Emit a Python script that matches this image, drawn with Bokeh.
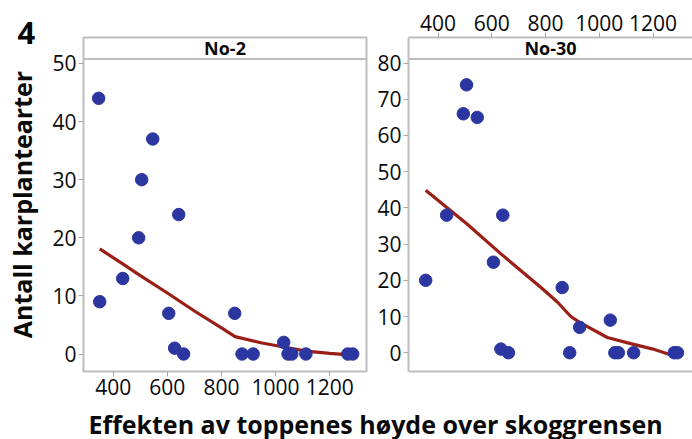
from bokeh.plotting import figure
from bokeh.layouts import column, row
from bokeh.models import Label, Span, LinearAxis, FixedTicker, Range1d, Title
from bokeh.embed import file_html
from bokeh.resources import INLINE

# ---- data ----
panel_titles = ["No-2", "No-30"]
x_ticks = [400, 600, 800, 1000, 1200]
y_ticks_no2 = [0, 10, 20, 30, 40, 50]
y_ticks_no30 = [0, 10, 20, 30, 40, 50, 60, 70, 80]

x_no2 = [346, 350, 435, 494, 505, 546, 605, 627, 642, 660, 849, 876, 917, 1030, 1046, 1060, 1112, 1267, 1285]
y_no2 = [44, 9, 13, 20, 30, 37, 7, 1, 24, 0, 7, 0, 0, 2, 0, 0, 0, 0, 0]
fit_x_no2 = [350, 435, 500, 600, 700, 800, 850, 950, 1030, 1112, 1200, 1285]
fit_y_no2 = [18.1, 15.5, 13.5, 10.5, 7.4, 4.5, 3.0, 1.9, 1.2, 0.5, 0.1, -0.2]

x_no30 = [354, 432, 494, 506, 546, 606, 634, 641, 662, 862, 890, 927, 1041, 1058, 1071, 1128, 1279, 1291]
y_no30 = [20, 38, 66, 74, 65, 25, 1, 38, 0, 18, 0, 7, 9, 0, 0, 0, 0, 0]
fit_x_no30 = [354, 509, 634, 783, 844, 894, 927, 1030, 1117, 1200, 1262]
fit_y_no30 = [44.9, 35.5, 27.3, 18.0, 14.0, 10.0, 8.4, 4.2, 2.5, 1.0, -0.5]

FRAME = "#bdbdbd"
TICK = "#a8a8a8"
DOT = "#2c36a0"
FIT = "#9a1f17"
FONT = "Open Sans"
TXT = "#0a0a0a"


def style_axis(ax, ticks):
    ax.ticker = FixedTicker(ticks=ticks)
    ax.minor_tick_line_color = None
    ax.major_tick_out = 5
    ax.major_tick_in = 0
    ax.major_tick_line_color = TICK
    ax.major_tick_line_width = 1
    ax.major_label_text_font = FONT
    ax.major_label_text_font_size = "21px"
    ax.major_label_text_color = TXT
    ax.major_label_standoff = 2


def bare(fig):
    fig.axis.visible = False
    fig.grid.visible = False
    fig.outline_line_color = None
    fig.background_fill_color = "white"
    fig.border_fill_color = "white"


# ---- left panel ----
tag = Title(text="4", align="left", offset=-66, standoff=-13, text_font=FONT,
            text_font_size="31px", text_font_style="bold", text_color="#000000")
f1 = figure(width=373, height=405, x_range=Range1d(290, 1336), y_range=Range1d(-3.01, 54.47),
            toolbar_location=None, output_backend="svg", title=tag,
            min_border_left=83, min_border_right=7, min_border_top=37, min_border_bottom=34)
f1.grid.visible = False
f1.outline_line_color = FRAME
f1.outline_line_width = 2
f1.background_fill_color = "white"
f1.border_fill_color = "white"
for ax in f1.xaxis:
    style_axis(ax, x_ticks)
    ax.axis_line_color = None
for ax in f1.yaxis:
    style_axis(ax, y_ticks_no2)
    ax.axis_line_color = None
    ax.axis_label = "Antall karplantearter"
    ax.axis_label_text_font = FONT
    ax.axis_label_text_font_size = "25px"
    ax.axis_label_text_font_style = "bold"
    ax.axis_label_text_color = TXT
    ax.axis_label_standoff = 10

f1.add_layout(Span(location=50.77, dimension="width", line_color=FRAME, line_width=2))
f1.add_layout(Label(x=(290 + 1336) / 2, y=52.6, text=panel_titles[0], text_align="center",
                    text_baseline="middle", text_font=FONT, text_font_size="18px",
                    text_font_style="bold", text_color=TXT))
f1.line(fit_x_no2, fit_y_no2, line_color=FIT, line_width=3.2)
f1.scatter(x_no2, y_no2, size=12.5, fill_color=DOT, line_color=DOT)

# ---- right panel ----
f2 = figure(width=319, height=405, x_range=Range1d(290, 1347), y_range=Range1d(-5.19, 87.07),
            toolbar_location=None, output_backend="svg", x_axis_location="above",
            min_border_left=35, min_border_right=0, min_border_top=37, min_border_bottom=34)
f2.grid.visible = False
f2.outline_line_color = None
f2.background_fill_color = "white"
f2.border_fill_color = "white"
for ax in f2.xaxis:
    style_axis(ax, x_ticks)
    ax.axis_line_color = FRAME
    ax.axis_line_width = 2
for ax in f2.yaxis:
    style_axis(ax, y_ticks_no30)
    ax.axis_line_color = FRAME
    ax.axis_line_width = 2
bottom = LinearAxis(ticker=FixedTicker(ticks=[]), major_label_text_font_size="0px",
                    axis_line_color=FRAME, axis_line_width=2, major_tick_line_color=None,
                    minor_tick_line_color=None)
f2.add_layout(bottom, "below")
f2.add_layout(Span(location=81.13, dimension="width", line_color=FRAME, line_width=2))
f2.add_layout(Label(x=(290 + 1347) / 2, y=84.1, text=panel_titles[1], text_align="center",
                    text_baseline="middle", text_font=FONT, text_font_size="18px",
                    text_font_style="bold", text_color=TXT))
f2.line(fit_x_no30, fit_y_no30, line_color=FIT, line_width=3.2)
f2.scatter(x_no30, y_no30, size=12.5, fill_color=DOT, line_color=DOT)

# ---- shared x label ----
f3 = figure(width=692, height=34, x_range=Range1d(0, 692), y_range=Range1d(0, 34),
            toolbar_location=None, output_backend="svg", min_border=0, title=None)
bare(f3)
f3.add_layout(Label(x=375, y=16, text="Effekten av toppenes høyde over skoggrensen",
                    text_align="center", text_baseline="middle", text_font=FONT,
                    text_font_size="25px", text_font_style="bold", text_color=TXT))

layout = column(row(f1, f2, spacing=0), f3, spacing=0)
open("out.html", "w").write(file_html(layout, INLINE))
